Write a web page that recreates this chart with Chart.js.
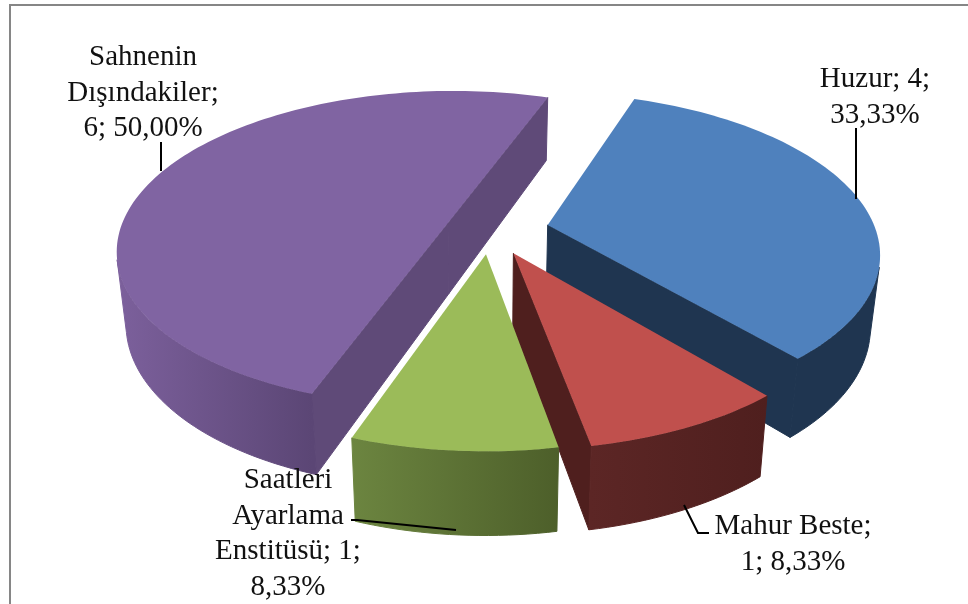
<!DOCTYPE html>
<html>
<head>
<meta charset="utf-8">
<title>Pie</title>
<script src="https://cdn.jsdelivr.net/npm/chart.js@4"></script>
<style>
html, body { margin: 0; padding: 0; background: #fff; }
#wrap { position: relative; width: 968px; height: 604px; overflow: hidden; }
#frame { position: absolute; left: 9px; top: 4px; width: 968px; height: 700px; border: 2px solid #868686; box-sizing: border-box; }
canvas { position: absolute; left: 0; top: 0; }
</style>
</head>
<body>
<div id="wrap">
  <div id="frame"></div>
  <canvas id="chartPie" width="968" height="604"></canvas>
</div>
<script>
const categories = ['Huzur', 'Mahur Beste', 'Saatleri Ayarlama Enstitüsü', 'Sahnenin Dışındakiler'];
const values = [4, 1, 1, 6];
const labelLines = [
    ['Huzur; 4;', '33,33%'],
    ['Mahur Beste;', '1; 8,33%'],
    ['Saatleri', 'Ayarlama', 'Enstitüsü; 1;', '8,33%'],
    ['Sahnenin', 'Dışındakiler;', '6; 50,00%']
];
const topColors = ['#4f81bd', '#c0504d', '#9bbb59', '#8064a2'];
const cutColors = ['#1f3550', '#4f1f1e', '#4f612b', '#5f4a78'];
const wallColors = [['#1f3550', '#1f3550'], ['#5c2625', '#4f1f1e'], ['#6c8540', '#4d5f2a'], ['#7c609c', '#5b4675']];
const explode = [59, 53, 50, 45];

// label anchors: centre x, first baseline
const labelSpots = [[875, 87], [793, 534], [288, 488], [143, 65]];
const lineGap = 35.6;
const leaders = [
    [[856, 128], [856, 199]],
    [[684, 505], [698, 533], [709, 533]],
    [[351, 520], [357, 520], [456, 530]],
    [[161, 142], [161, 171]]
];

// tilt + perspective for the flat pie
const tilt = 0.475, persp = 0.0005, depth = 71, shrink = 0.975;

const pie3d = {
    id: 'pie3d',
    beforeDatasetsDraw(chart) {
        const ctx = chart.ctx;
        const arcs = chart.getDatasetMeta(0).data;

        function project(el, u, v, low) {
            const s = 1 / (1 - persp * v);
            const k = low ? shrink : 1;
            const drop = low ? depth * (1 + (s - 1) * 0.8) : 0;
            return [el.x + u * s * k, el.y + tilt * v * s + drop];
        }
        function fillPoly(pts, fill, edge) {
            ctx.beginPath();
            pts.forEach((p, i) => i ? ctx.lineTo(p[0], p[1]) : ctx.moveTo(p[0], p[1]));
            ctx.closePath();
            ctx.fillStyle = fill;
            ctx.fill();
            if (edge) {
                ctx.strokeStyle = fill;
                ctx.lineWidth = 1;
                ctx.stroke();
            }
        }
        function facing(a, b, c) {
            return (b[0] - a[0]) * (c[1] - a[1]) - (b[1] - a[1]) * (c[0] - a[0]);
        }

        const order = arcs.map((el, i) => i).sort((a, b) => {
            const mid = i => (arcs[i].startAngle + arcs[i].endAngle) / 2;
            return Math.sin(mid(a)) - Math.sin(mid(b));
        });

        order.forEach(i => {
            const el = arcs[i];
            const mid = (el.startAngle + el.endAngle) / 2;
            const off = el.options.offset;
            const ou = off * Math.cos(mid), ov = off * Math.sin(mid);
            const n = Math.round((el.endAngle - el.startAngle) * 40);
            const rim = [];
            for (let j = 0; j <= n; j++) {
                const t = el.startAngle + (el.endAngle - el.startAngle) * j / n;
                rim.push([ou + el.outerRadius * Math.cos(t), ov + el.outerRadius * Math.sin(t)]);
            }
            const up = rim.map(p => project(el, p[0], p[1], false));
            const down = rim.map(p => project(el, p[0], p[1], true));
            const apexUp = project(el, ou, ov, false);
            const apexDown = project(el, ou, ov, true);

            // cut faces, only the ones turned to the viewer
            const first = [apexUp, up[0], down[0], apexDown];
            const last = [up[n], apexUp, apexDown, down[n]];
            [first, last].forEach(q => {
                if (facing(q[0], q[1], q[2]) < 0) fillPoly(q, cutColors[i], true);
            });

            // outer wall
            const front = [];
            for (let j = 0; j < n; j++) {
                if (facing(up[j], up[j + 1], down[j + 1]) < 0) front.push(j);
            }
            if (front.length) {
                const end = front[front.length - 1] + 1;
                const x0 = up[front[0]][0], x1 = up[end][0];
                const g = ctx.createLinearGradient(Math.min(x0, x1), 0, Math.max(x0, x1), 0);
                g.addColorStop(0, wallColors[i][0]);
                g.addColorStop(1, wallColors[i][1]);
                const wall = front.map(j => up[j]).concat([up[end], down[end]]);
                for (let j = front.length - 1; j >= 0; j--) wall.push(down[front[j]]);
                fillPoly(wall, g, true);
            }

            fillPoly([apexUp].concat(up), topColors[i]);
        });

        // leader lines
        ctx.strokeStyle = '#000';
        ctx.lineWidth = 2;
        leaders.forEach(line => {
            ctx.beginPath();
            line.forEach((p, i) => i ? ctx.lineTo(p[0], p[1]) : ctx.moveTo(p[0], p[1]));
            ctx.stroke();
        });

        // data labels
        ctx.fillStyle = '#111';
        ctx.font = '29px "Liberation Serif"';
        ctx.textAlign = 'center';
        ctx.textBaseline = 'alphabetic';
        labelLines.forEach((lines, i) => {
            lines.forEach((txt, j) => ctx.fillText(txt, labelSpots[i][0], labelSpots[i][1] + j * lineGap));
        });
        return false;
    }
};

new Chart(document.querySelector('#chartPie').getContext('2d'), {
    type: 'pie',
    data: {
        labels: categories,
        datasets: [
            {
                data: values,
                backgroundColor: topColors,
                offset: c => explode[c.dataIndex]
            }
        ]
    },
    options: {
        responsive: false,
        animation: false,
        rotation: 19.5,
        radius: 328,
        layout: { padding: { left: 12, bottom: 144 } },
        plugins: { legend: { display: false }, tooltip: { enabled: false } }
    },
    plugins: [pie3d]
});
</script>
</body>
</html>
